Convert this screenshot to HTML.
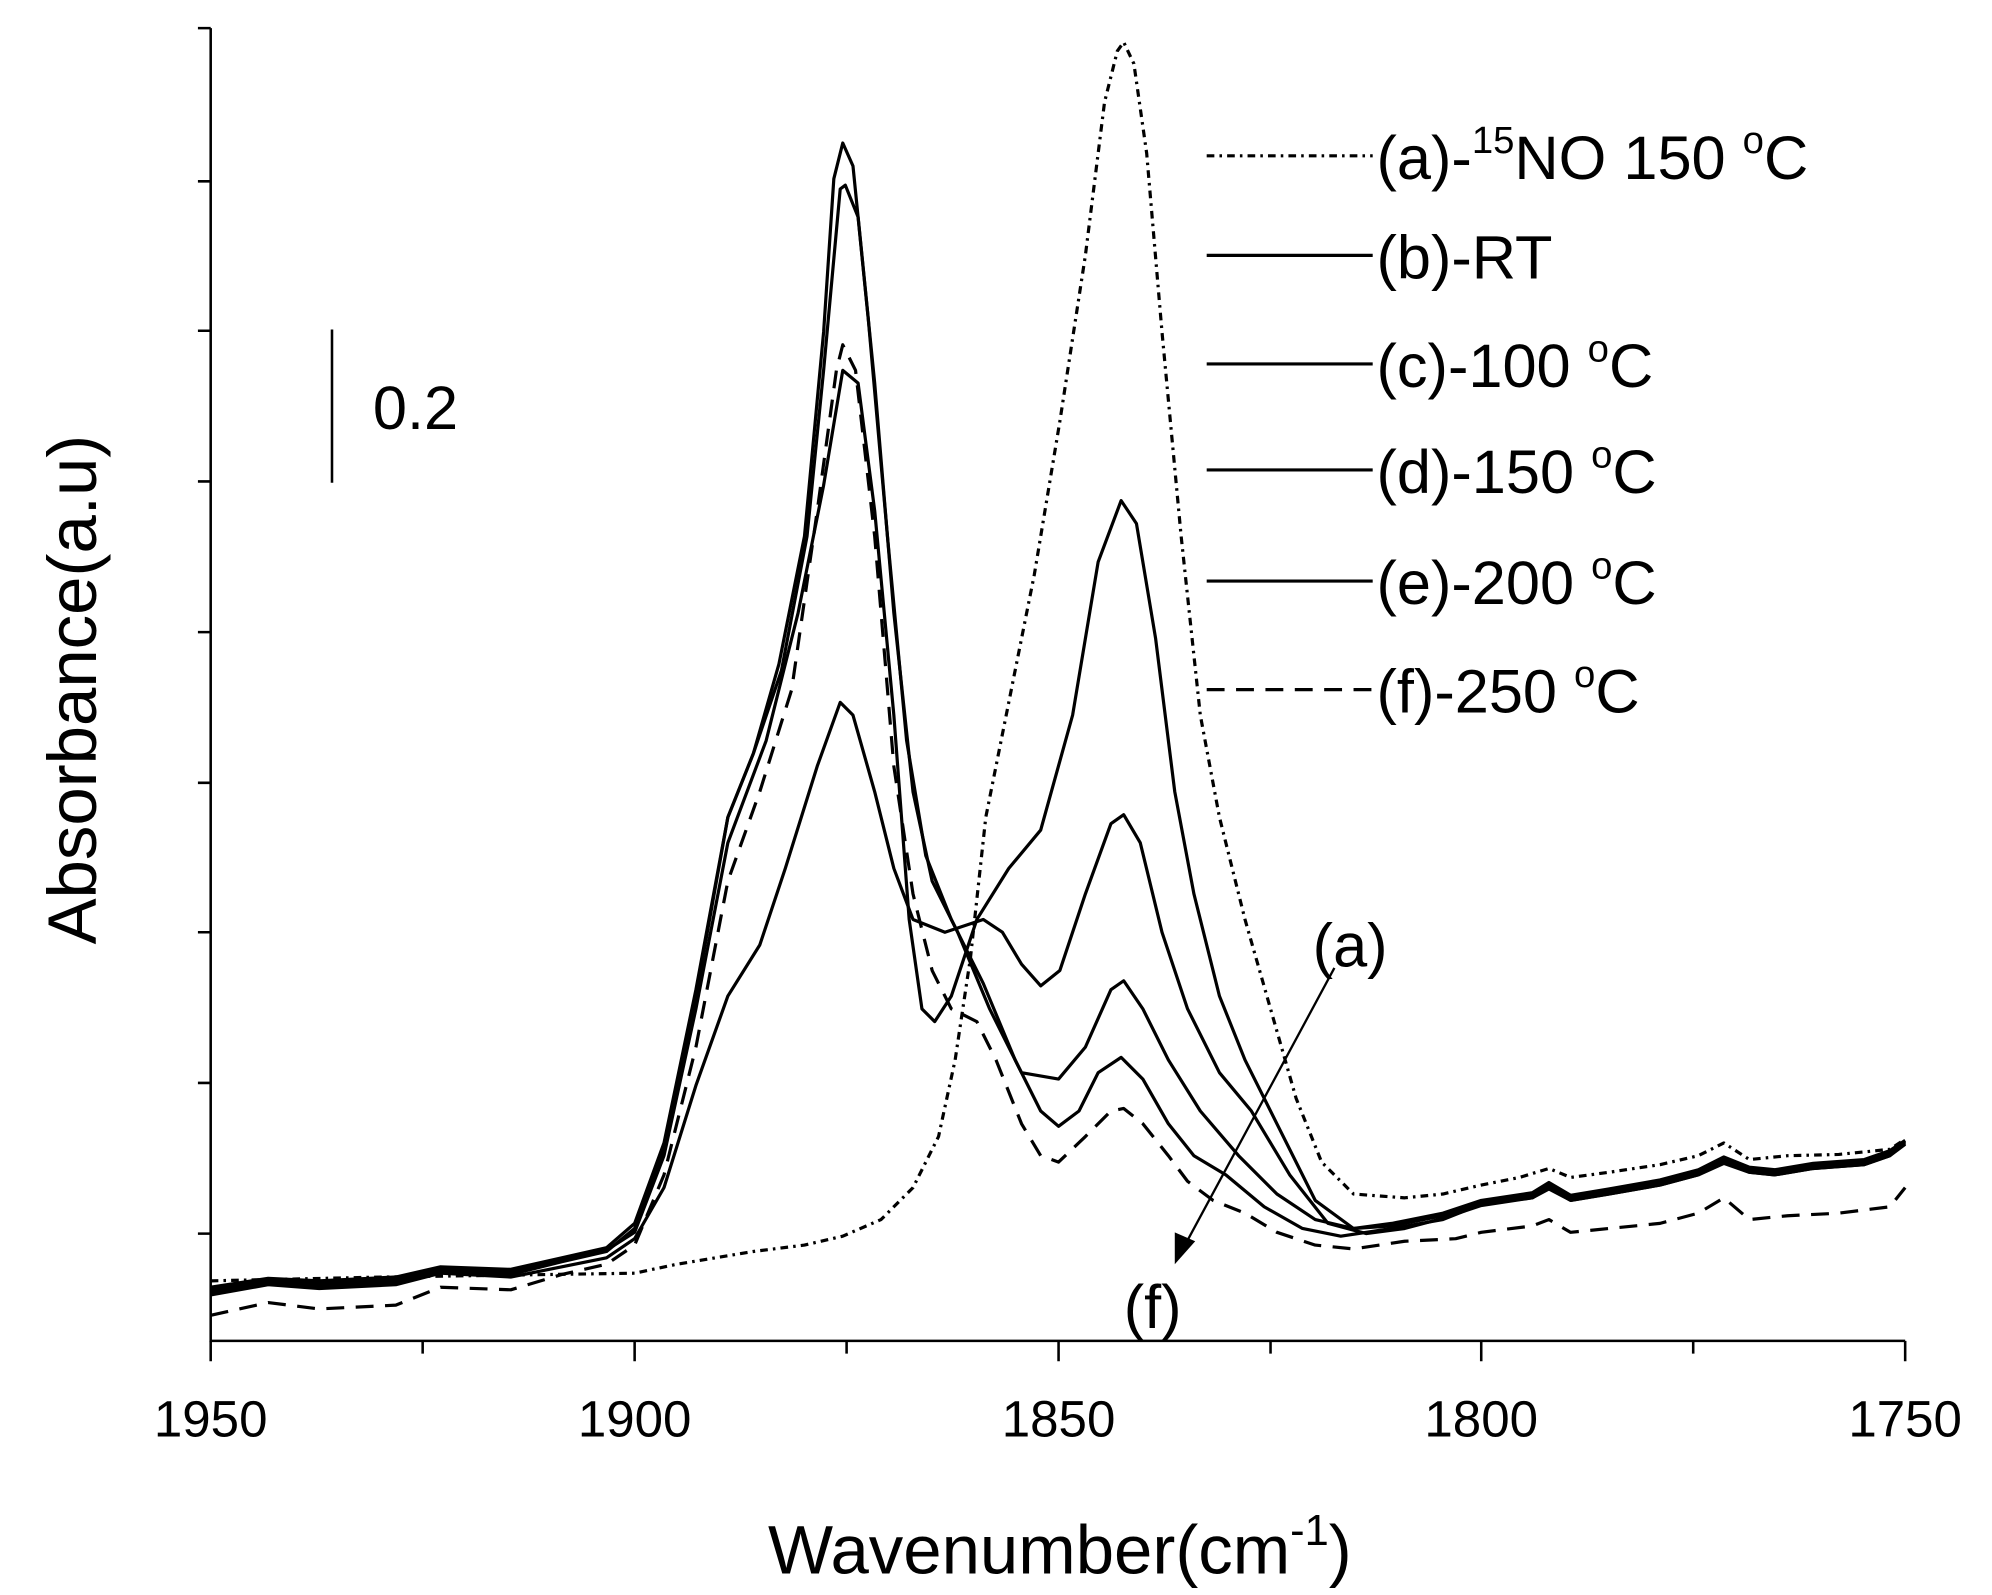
<!DOCTYPE html>
<html><head><meta charset="utf-8"><style>html,body{margin:0;padding:0;background:#fff}svg{display:block}</style></head><body>
<svg width="1992" height="1595" viewBox="0 0 1560 1249" preserveAspectRatio="none" xmlns="http://www.w3.org/2000/svg" font-family="Liberation Sans, sans-serif">
<rect width="1560" height="1249" fill="#fff"/>
<g stroke="#000" stroke-width="2" fill="none">
<path d="M165,22V1050H1492"/>
<path d="M155,22H165M155,142H165M155,259H165M155,377H165M155,495H165M155,613H165M155,730H165M155,848H165M155,966H165"/>
<path d="M165,1050V1066M331,1050V1060M497,1050V1066M663,1050V1060M829,1050V1066M995,1050V1060M1160,1050V1066M1326,1050V1060M1492,1050V1066"/>
<path d="M260,258V378"/>
</g>
<g fill="#000" font-size="40" text-anchor="middle">
<text x="165" y="1125">1950</text><text x="497" y="1125">1900</text><text x="829" y="1125">1850</text><text x="1160" y="1125">1800</text><text x="1492" y="1125">1750</text>
</g>
<text x="830" y="1232" font-size="54" text-anchor="middle">Wavenumber(cm<tspan dy="-22" font-size="34">-1</tspan><tspan dy="22">)</tspan></text>
<text transform="translate(75,540) rotate(-90)" font-size="54" text-anchor="middle">Absorbance(a.u)</text>
<text x="292" y="336" font-size="48">0.2</text>
<g fill="none" stroke="#000" stroke-linejoin="round">
<polyline stroke-width="2.5" points="165,1012 210,1005 250,1007 310,1004 345,995 400,998 440,988 475,980 497,962 520,900 545,780 570,640 590,590 610,520 630,420 645,260 653,140 660,112 668,130 680,250 695,420 710,580 725,670 745,720 770,770 795,830 815,870 829,882 845,870 860,840 878,828 895,845 915,880 935,905 960,920 990,945 1020,962 1050,968 1090,962 1130,955 1160,943 1200,938 1213,930 1230,940 1260,935 1300,928 1330,920 1350,910 1370,918 1390,920 1420,915 1460,912 1480,905 1492,895"/>
<polyline stroke-width="2.5" points="165,1008 210,1001 250,1003 310,1000 345,992 400,994 440,985 475,977 497,958 520,895 545,775 570,640 590,590 612,525 632,420 645,290 658,148 662,145 672,170 685,300 700,480 715,620 730,690 750,730 775,790 800,840 829,845 850,820 870,775 880,768 895,790 915,830 940,870 970,905 1000,935 1030,955 1060,962 1090,958 1130,950 1160,940 1200,934 1213,926 1230,936 1260,931 1300,924 1330,916 1350,906 1370,914 1390,916 1420,911 1460,908 1480,901 1492,893"/>
<polyline stroke-width="2.5" points="165,1010 210,1003 250,1005 310,1002 345,994 400,996 440,987 475,979 497,965 520,905 545,790 570,660 600,580 625,480 645,380 660,290 672,300 685,400 700,560 712,720 722,790 732,800 745,780 765,720 790,680 815,650 840,560 860,440 878,392 890,410 905,500 920,620 935,700 955,780 975,830 1000,880 1030,940 1060,962 1090,960 1130,952 1160,942 1200,936 1213,928 1230,938 1260,933 1300,926 1330,918 1350,908 1370,916 1390,918 1420,913 1460,910 1480,903 1492,894"/>
<polyline stroke-width="2.5" points="165,1014 210,1006 250,1009 310,1006 345,997 400,1000 440,992 475,985 497,970 520,930 545,850 570,780 595,740 615,680 640,600 658,550 668,560 685,620 700,680 715,720 740,730 770,720 785,730 800,755 815,772 830,760 850,700 870,645 880,638 893,660 910,730 930,790 955,840 980,870 1010,920 1040,958 1070,966 1100,962 1130,954 1160,944 1200,938 1213,931 1230,940 1260,935 1300,928 1330,920 1350,911 1370,918 1390,920 1420,915 1460,912 1480,905 1492,896"/>
<polyline stroke-width="2.5" stroke-dasharray="14,9" points="165,1030 210,1020 250,1025 310,1022 345,1008 400,1010 440,998 475,990 497,975 520,920 545,820 570,690 595,620 620,540 640,400 655,290 660,270 670,290 685,420 700,600 715,700 730,760 745,790 765,800 780,830 800,880 815,905 829,910 850,890 870,870 880,868 895,880 915,905 930,925 950,940 975,950 1000,965 1030,975 1060,978 1100,972 1140,970 1160,965 1200,960 1213,955 1230,965 1260,962 1300,958 1330,950 1350,938 1370,955 1400,952 1440,950 1480,945 1492,930"/>
<polyline stroke-width="2.5" stroke-dasharray="6,4,2,4" points="165,1003 300,1000 497,997 530,990 560,985 590,980 630,975 660,968 690,955 715,930 735,890 748,830 760,750 772,640 790,550 810,450 830,330 850,200 865,80 875,40 880,33 888,50 898,120 910,260 925,420 940,560 955,640 975,720 995,790 1015,860 1035,910 1060,935 1100,938 1130,935 1160,928 1190,922 1213,915 1230,922 1260,918 1300,912 1330,905 1350,895 1370,908 1400,905 1440,904 1480,900 1492,892"/>
</g>
<g stroke="#000" stroke-width="2.5" fill="none">
<path d="M945,122H1075" stroke-dasharray="6,4,2,4"/>
<path d="M945,200H1075"/><path d="M945,285H1075"/><path d="M945,368H1075"/><path d="M945,455H1075"/>
<path d="M945,540H1075" stroke-dasharray="14,9"/>
</g>
<g font-size="48" fill="#000">
<text x="1078" y="140">(a)-<tspan dy="-20" font-size="30">15</tspan><tspan dy="20">NO 150 </tspan><tspan dy="-20" font-size="30">o</tspan><tspan dy="20">C</tspan></text>
<text x="1078" y="218">(b)-RT</text>
<text x="1078" y="303">(c)-100 <tspan dy="-20" font-size="30">o</tspan><tspan dy="20">C</tspan></text>
<text x="1078" y="386">(d)-150 <tspan dy="-20" font-size="30">o</tspan><tspan dy="20">C</tspan></text>
<text x="1078" y="473">(e)-200 <tspan dy="-20" font-size="30">o</tspan><tspan dy="20">C</tspan></text>
<text x="1078" y="558">(f)-250 <tspan dy="-20" font-size="30">o</tspan><tspan dy="20">C</tspan></text>
<text x="1028" y="757">(a)</text>
<text x="880" y="1040">(f)</text>
</g>
<path d="M1045,758L928,975" stroke="#000" stroke-width="1.8"/>
<path d="M920,990L920,965L936,972Z" fill="#000"/>
</svg>
</body></html>
